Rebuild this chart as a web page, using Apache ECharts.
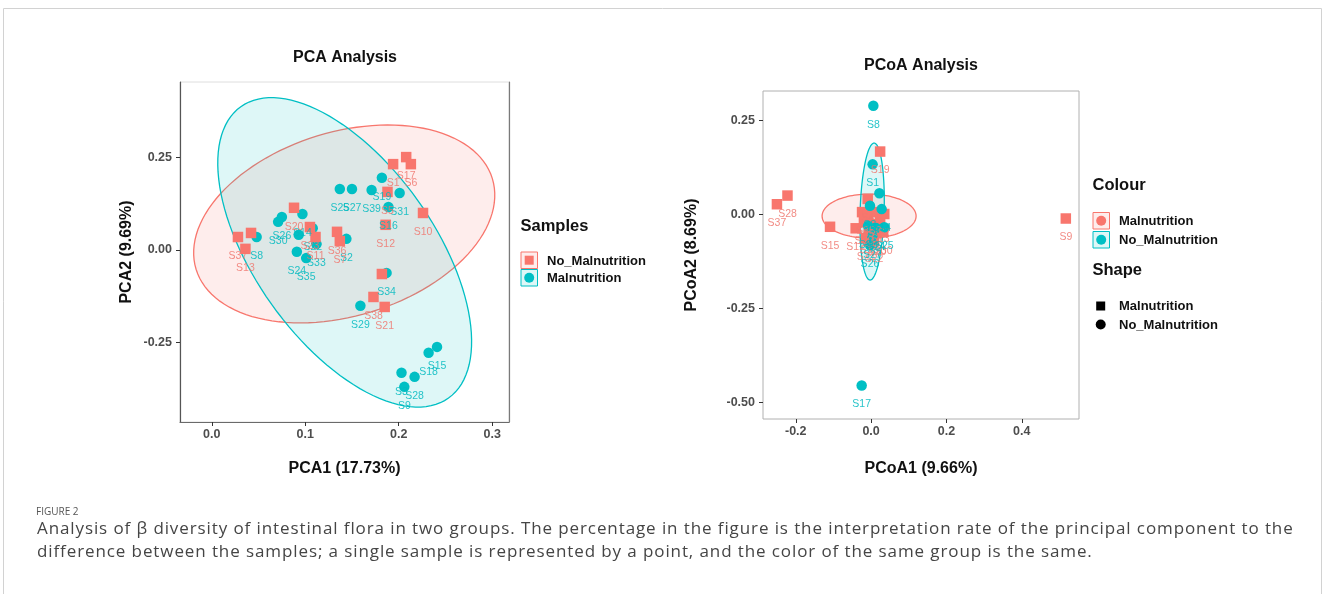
<!DOCTYPE html>
<html>
<head>
<meta charset="utf-8">
<script src="https://cdn.jsdelivr.net/npm/echarts@6/dist/echarts.min.js"></script>
<style>
  html, body { margin: 0; padding: 0; background: #fff; }
  #wrap { position: relative; width: 1328px; height: 594px; }
  #main { width: 1328px; height: 594px; }
  #figlabel { position: absolute; left: 36px; top: 504px; font: 10px "Open Sans", sans-serif; color: #555; line-height: 14px; }
  #caption { position: absolute; left: 37px; top: 517px; font: 17px "Open Sans", sans-serif; letter-spacing: 0.9px;
             color: #454545; line-height: 22.5px; white-space: nowrap; }
</style>
</head>
<body>
<div id="wrap">
  <div id="main"></div>
  <div id="figlabel"></div>
  <div id="caption"></div>
</div>
<script>
// ---- data ----
// PCA panel
var pcaGroups = ['No_Malnutrition', 'Malnutrition'];
var pcaXTicks = [0, 0.1, 0.2, 0.3];
var pcaYTicks = [-0.25, 0, 0.25];

var pcaNoMalX = [0.028, 0.042, 0.036, 0.088, 0.105, 0.111, 0.134, 0.137, 0.182, 0.186, 0.188, 0.194, 0.208, 0.213, 0.226, 0.173, 0.185];
var pcaNoMalY = [0.035, 0.046, 0.003, 0.114, 0.062, 0.035, 0.049, 0.024, -0.065, 0.068, 0.157, 0.232, 0.251, 0.232, 0.100, -0.127, -0.154];
var pcaNoMalLab = ['S37', '', 'S13', 'S20', 'S23', 'S11', 'S36', 'S7', '', 'S12', 'S5', 'S1', 'S17', 'S6', 'S10', 'S38', 'S21'];

var pcaMalX = [0.048, 0.075, 0.071, 0.097, 0.093, 0.108, 0.112, 0.091, 0.101, 0.137, 0.150, 0.171, 0.182, 0.201, 0.189, 0.144, 0.187, 0.159, 0.241, 0.232, 0.203, 0.217, 0.206];
var pcaMalY = [0.035, 0.089, 0.076, 0.097, 0.041, 0.059, 0.016, -0.005, -0.022, 0.165, 0.165, 0.162, 0.195, 0.154, 0.116, 0.030, -0.062, -0.151, -0.262, -0.278, -0.332, -0.343, -0.370];
var pcaMalLab = ['S8', 'S26', 'S30', 'S14', '', 'S22', 'S33', 'S24', 'S35', 'S25', 'S27', 'S39', 'S19', 'S31', 'S16', 'S2', 'S34', 'S29', 'S15', 'S18', 'S3', 'S28', 'S9'];

// ellipse: centre x, y, first semi-axis dx, dy, second semi-axis dx, dy (data units)
var pcaNoMalEllipse = [0.1417, 0.0703, 0.1585, 0.1225, -0.0288, 0.2378];
var pcaMalEllipse = [0.1422, -0.0065, -0.1111, 0.3938, -0.0781, -0.1408];

// PCoA panel
var pcoaGroups = ['Malnutrition', 'No_Malnutrition'];
var pcoaXTicks = [-0.2, 0, 0.2, 0.4];
var pcoaYTicks = [-0.5, -0.25, 0, 0.25];

var pcoaMalX = [-0.250, -0.222, -0.109, -0.041, 0.517, 0.024, -0.009, -0.024, -0.008, 0.011, 0.035, -0.019, 0.003, 0.024, -0.005, 0.016, -0.013, 0.008, 0.032];
var pcoaMalY = [0.027, 0.050, -0.033, -0.037, -0.011, 0.167, 0.041, 0.006, -0.002, 0.006, 0.001, -0.021, -0.026, -0.015, -0.044, -0.050, -0.063, -0.068, -0.047];
var pcoaMalLab = ['S37', 'S28', 'S15', 'S12', 'S9', 'S19', 'S4', 'S2', 'S5', 'S6', 'S7', 'S10', 'S11', 'S13', 'S16', 'S20', 'S21', 'S22', 'S30'];

var pcoaNoMalX = [0.006, 0.004, 0.022, -0.003, 0.028, -0.008, 0.013, 0.035, 0.003, -0.003, -0.025];
var pcoaNoMalY = [0.289, 0.133, 0.056, 0.023, 0.014, -0.031, -0.036, -0.034, -0.058, -0.082, -0.455];
var pcoaNoMalLab = ['S8', 'S1', '', 'S3', 'S14', 'S23', 'S24', 'S25', 'S27', 'S26', 'S17'];

var pcoaMalEllipse = [-0.0053, -0.0045, 0.1248, 0, 0, 0.0585];
var pcoaNoMalEllipse = [0.0027, 0.0074, 0.0053, 0.182, 0.0319, 0];

var figureLabel = 'FIGURE 2';
var captionLines = [
    'Analysis of \u03b2 diversity of intestinal flora in two groups. The percentage in the figure is the interpretation rate of the principal component to the',
    'difference between the samples; a single sample is represented by a point, and the color of the same group is the same.'
];

// ---- styles ----
var RED = '#F8766D', TEAL = '#00BFC4';
var RED_FILL = 'rgba(248,118,109,0.13)', TEAL_FILL = 'rgba(0,191,196,0.13)';
var RED_TXT = 'rgba(240,120,112,0.85)', TEAL_TXT = 'rgba(0,186,192,0.85)';
var FONT = '"Liberation Sans", Arial, sans-serif';

document.getElementById('figlabel').textContent = figureLabel;
var cap = document.getElementById('caption');
captionLines.forEach(function (line) {
    var d = document.createElement('div');
    d.textContent = line;
    cap.appendChild(d);
});

function pts(xs, ys, labs) {
    return xs.map(function (x, i) { return { name: labs[i], value: [x, ys[i]] }; });
}

function ellipseSeries(e, color, fill, gi) {
    return {
        type: 'custom', xAxisIndex: gi, yAxisIndex: gi, silent: true, z: 1,
        data: [[e[0], e[1]]],
        renderItem: function (params, api) {
            var points = [];
            for (var k = 0; k <= 120; k++) {
                var t = 2 * Math.PI * k / 120, c = Math.cos(t), s = Math.sin(t);
                points.push(api.coord([e[0] + e[2] * c + e[4] * s, e[1] + e[3] * c + e[5] * s]));
            }
            return { type: 'polygon', shape: { points: points }, style: { fill: fill, stroke: color, lineWidth: 1.3 } };
        }
    };
}

function scatterSeries(data, symbol, color, txt, gi) {
    return {
        type: 'scatter', xAxisIndex: gi, yAxisIndex: gi, z: 3,
        symbol: symbol, symbolSize: 10.5,
        itemStyle: { color: color, opacity: 1 },
        label: {
            show: true, position: 'inside', offset: [0, 19],
            formatter: function (p) { return p.name; },
            color: txt, fontSize: 10.5, fontFamily: FONT
        },
        emphasis: { disabled: true },
        data: data
    };
}

function axisLabelCfg(ticks, digits, margin) {
    return {
        customValues: ticks, margin: margin,
        formatter: function (v) { return (+v).toFixed(digits); },
        color: '#4d4d4d', fontSize: 12.5, fontWeight: 'bold', fontFamily: FONT
    };
}

var nameStyle = { color: '#111', fontSize: 16, fontWeight: 'bold', fontFamily: FONT };

function legendText(x, y, text, size) {
    return { type: 'text', x: x, y: y, style: { text: text, fontSize: size, fontWeight: 'bold', fontFamily: FONT, fill: '#111', verticalAlign: 'middle' } };
}

var chart = echarts.init(document.getElementById('main'));

var option = {
    animation: false,
    backgroundColor: '#fff',
    grid: [
        { left: 180, top: 82, width: 329, height: 340, show: true, borderColor: '#dedede', borderWidth: 1 },
        { left: 763, top: 91, width: 316, height: 328, show: true, borderColor: '#b0b0b0', borderWidth: 1 }
    ],
    xAxis: [
        {
            gridIndex: 0, type: 'value', min: -0.034, max: 0.318,
            axisLine: { show: true, onZero: false, lineStyle: { color: '#6a6a6a', width: 1.2 } },
            axisTick: { show: true, length: 4, customValues: pcaXTicks, lineStyle: { color: '#333' } },
            axisLabel: axisLabelCfg(pcaXTicks, 1, 6),
            splitLine: { show: false },
            name: 'PCA1 (17.73%)', nameLocation: 'middle', nameGap: 39, nameTextStyle: nameStyle
        },
        {
            gridIndex: 1, type: 'value', min: -0.287, max: 0.552,
            axisLine: { show: false, onZero: false },
            axisTick: { show: true, length: 4, customValues: pcoaXTicks, lineStyle: { color: '#333' } },
            axisLabel: axisLabelCfg(pcoaXTicks, 1, 6),
            splitLine: { show: false },
            name: 'PCoA1 (9.66%)', nameLocation: 'middle', nameGap: 42, nameTextStyle: nameStyle
        }
    ],
    yAxis: [
        {
            gridIndex: 0, type: 'value', min: -0.465, max: 0.454,
            axisLine: { show: true, onZero: false, lineStyle: { color: '#555', width: 1.2 } },
            axisTick: { show: true, length: 4, customValues: pcaYTicks, lineStyle: { color: '#333' } },
            axisLabel: axisLabelCfg(pcaYTicks, 2, 8),
            splitLine: { show: false },
            name: 'PCA2 (9.69%)', nameLocation: 'middle', nameGap: 45, nameTextStyle: nameStyle
        },
        {
            gridIndex: 1, type: 'value', min: -0.544, max: 0.328,
            axisLine: { show: false, onZero: false },
            axisTick: { show: true, length: 4, customValues: pcoaYTicks, lineStyle: { color: '#333' } },
            axisLabel: axisLabelCfg(pcoaYTicks, 2, 8),
            splitLine: { show: false },
            name: 'PCoA2 (8.69%)', nameLocation: 'middle', nameGap: 63, nameTextStyle: nameStyle
        },
        {
            gridIndex: 0, type: 'value', min: -0.465, max: 0.454, position: 'right',
            axisLine: { show: true, onZero: false, lineStyle: { color: '#7a7a7a', width: 1.2 } },
            axisTick: { show: false }, axisLabel: { show: false }, splitLine: { show: false }
        }
    ],
    series: [
        ellipseSeries(pcaNoMalEllipse, RED, RED_FILL, 0),
        ellipseSeries(pcaMalEllipse, TEAL, TEAL_FILL, 0),
        scatterSeries(pts(pcaMalX, pcaMalY, pcaMalLab), 'circle', TEAL, TEAL_TXT, 0),
        scatterSeries(pts(pcaNoMalX, pcaNoMalY, pcaNoMalLab), 'rect', RED, RED_TXT, 0),
        ellipseSeries(pcoaMalEllipse, RED, RED_FILL, 1),
        ellipseSeries(pcoaNoMalEllipse, TEAL, TEAL_FILL, 1),
        scatterSeries(pts(pcoaMalX, pcoaMalY, pcoaMalLab), 'rect', RED, RED_TXT, 1),
        scatterSeries(pts(pcoaNoMalX, pcoaNoMalY, pcoaNoMalLab), 'circle', TEAL, TEAL_TXT, 1)
    ],
    graphic: [
        // figure frame
        { type: 'rect', shape: { x: 3.5, y: 8.5, width: 1318, height: 600 }, style: { fill: 'none', stroke: '#d2d2d2', lineWidth: 1 }, z: -10 },
        // panel titles
        { type: 'text', x: 345, y: 58, style: { text: 'PCA Analysis', fontSize: 16, fontWeight: 'bold', fontFamily: FONT, fill: '#111', align: 'center', verticalAlign: 'middle' } },
        { type: 'text', x: 921, y: 66, style: { text: 'PCoA Analysis', fontSize: 16, fontWeight: 'bold', fontFamily: FONT, fill: '#111', align: 'center', verticalAlign: 'middle' } },

        // PCA legend
        legendText(520.5, 226, 'Samples', 16.5),
        { type: 'rect', shape: { x: 521, y: 252, width: 16.5, height: 16.5 }, style: { fill: RED_FILL, stroke: RED, lineWidth: 1 } },
        { type: 'rect', shape: { x: 524.7, y: 255.7, width: 9, height: 9 }, style: { fill: RED } },
        { type: 'rect', shape: { x: 521, y: 269.5, width: 16.5, height: 16.5 }, style: { fill: TEAL_FILL, stroke: TEAL, lineWidth: 1 } },
        { type: 'circle', shape: { cx: 529.2, cy: 277.7, r: 5 }, style: { fill: TEAL } },
        legendText(547, 261, pcaGroups[0], 13),
        legendText(547, 278.5, pcaGroups[1], 13),

        // PCoA legend
        legendText(1092.5, 185, 'Colour', 16.5),
        { type: 'rect', shape: { x: 1093, y: 212.5, width: 16.5, height: 16.5 }, style: { fill: RED_FILL, stroke: RED, lineWidth: 1 } },
        { type: 'circle', shape: { cx: 1101.2, cy: 220.7, r: 5 }, style: { fill: RED } },
        { type: 'rect', shape: { x: 1093, y: 231.5, width: 16.5, height: 16.5 }, style: { fill: TEAL_FILL, stroke: TEAL, lineWidth: 1 } },
        { type: 'circle', shape: { cx: 1101.2, cy: 239.7, r: 5 }, style: { fill: TEAL } },
        legendText(1119, 221.5, pcoaGroups[0], 13),
        legendText(1119, 240.5, pcoaGroups[1], 13),
        legendText(1092.5, 270, 'Shape', 16.5),
        { type: 'rect', shape: { x: 1096.2, y: 301.5, width: 9, height: 9 }, style: { fill: '#000' } },
        { type: 'circle', shape: { cx: 1100.7, cy: 324.5, r: 5 }, style: { fill: '#000' } },
        legendText(1119, 306.5, pcoaGroups[0], 13),
        legendText(1119, 325, pcoaGroups[1], 13)
    ]
};

chart.setOption(option);
</script>
</body>
</html>
